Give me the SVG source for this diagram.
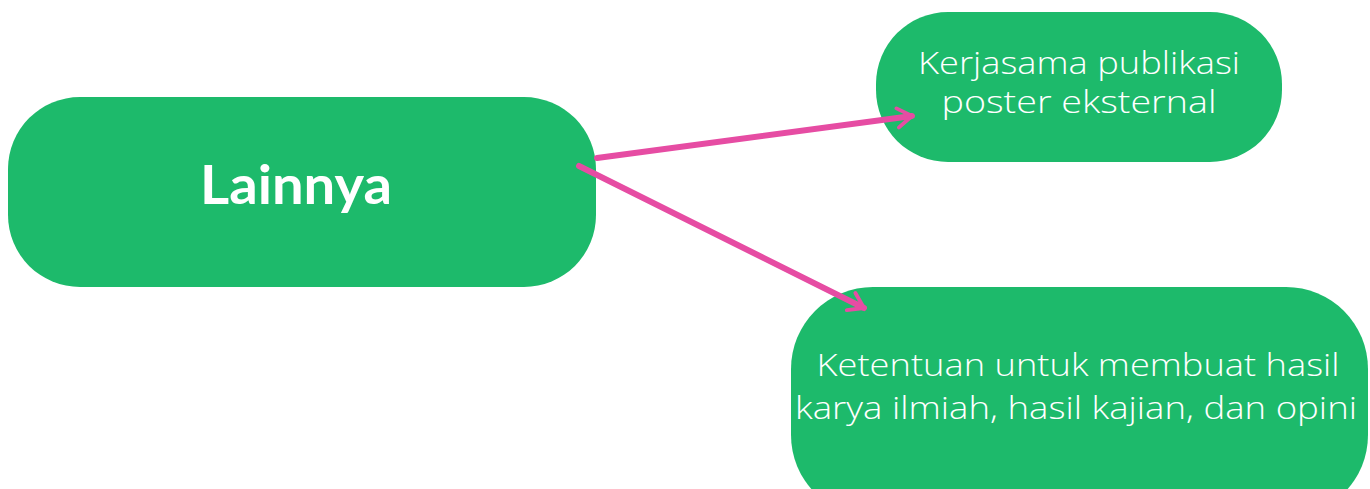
<svg xmlns="http://www.w3.org/2000/svg" width="1370" height="489" viewBox="0 0 1370 489">
<style>
.node{fill:#1DBA6B}
.t{fill:#fff;font-family:"Open Sans","Lato","Noto Sans",sans-serif;text-anchor:middle}
.main{font-family:"Lato","Noto Sans",sans-serif;font-size:54px;font-weight:700}
.sub{font-size:32px;font-weight:300}
.c{stroke:#E64CA3;stroke-width:6;fill:none;stroke-linecap:round}
</style>
<defs>
<marker id="ah" viewBox="0 0 10 10" refX="8" refY="5" markerWidth="4" markerHeight="4" orient="auto" markerUnits="strokeWidth">
<path d="M2,1 L8,5 L2,9" fill="none" stroke="#E64CA3" stroke-width="1.6" stroke-linecap="round" stroke-linejoin="round"/>
</marker>
</defs>
<g id="node-lainnya">
<rect class="node" x="8" y="97" width="588" height="190" rx="72"/>
<text class="t main" x="296" y="204" textLength="192" lengthAdjust="spacingAndGlyphs">Lainnya</text>
</g>
<g id="node-kerjasama">
<rect class="node" x="876" y="12" width="406" height="150" rx="72"/>
<text class="t sub" x="1079" y="74" textLength="322" lengthAdjust="spacingAndGlyphs">Kerjasama publikasi</text>
<text class="t sub" x="1079" y="113" textLength="275" lengthAdjust="spacingAndGlyphs">poster eksternal</text>
</g>
<g id="node-ketentuan">
<rect class="node" x="791" y="287" width="577" height="230" rx="82"/>
<text class="t sub" x="1078" y="376" textLength="523" lengthAdjust="spacingAndGlyphs">Ketentuan untuk membuat hasil</text>
<text class="t sub" x="1076" y="419" textLength="562" lengthAdjust="spacingAndGlyphs">karya ilmiah, hasil kajian, dan opini</text>
</g>
<g id="connectors">
<line class="c" x1="597" y1="158" x2="912" y2="116" marker-end="url(#ah)"/>
<line class="c" x1="579" y1="166" x2="864" y2="308" marker-end="url(#ah)"/>
</g>
</svg>
